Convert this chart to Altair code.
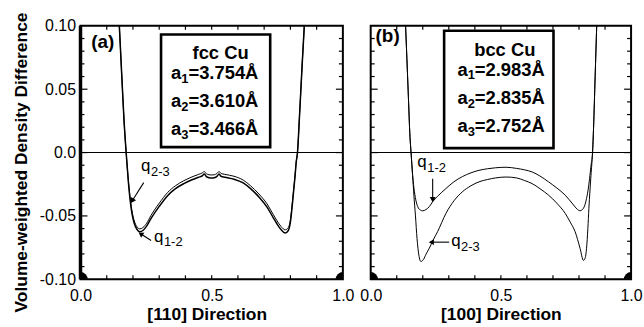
import altair as alt
import pandas as pd

FONT = "Liberation Sans"

# ---------------- panel (a): fcc Cu, [110] direction ----------------
xa = [0.135, 0.148, 0.157, 0.166, 0.174, 0.182, 0.190, 0.197, 0.205, 0.215,
      0.226, 0.238, 0.252, 0.269, 0.300, 0.332, 0.362, 0.394, 0.425, 0.450,
      0.463, 0.472, 0.480, 0.490, 0.500, 0.510, 0.520, 0.528, 0.536, 0.550,
      0.585, 0.620, 0.648, 0.680, 0.711, 0.735, 0.748, 0.765, 0.780, 0.792,
      0.800, 0.806, 0.812, 0.818, 0.822, 0.827, 0.835, 0.845, 0.853, 0.865]
a_q12 = [0.150, 0.100, 0.062, 0.025, 0.000, -0.022, -0.039, -0.049, -0.056, -0.0605,
         -0.0625, -0.0615, -0.058, -0.052, -0.0425, -0.0340, -0.0285, -0.0245, -0.0215, -0.0195,
         -0.0185, -0.0170, -0.0190, -0.0198, -0.0200, -0.0198, -0.0188, -0.0170, -0.0188, -0.0195,
         -0.0210, -0.0240, -0.0285, -0.0350, -0.0430, -0.0515, -0.0560, -0.0610, -0.0635, -0.0615,
         -0.0550, -0.0440, -0.0310, -0.0180, -0.0080, 0.000, 0.030, 0.070, 0.100, 0.150]
a_q23 = [0.150, 0.100, 0.062, 0.025, 0.000, -0.021, -0.037, -0.047, -0.054, -0.0585,
         -0.0602, -0.0592, -0.0558, -0.0495, -0.0400, -0.0315, -0.0262, -0.0222, -0.0192, -0.0172,
         -0.0162, -0.0150, -0.0168, -0.0175, -0.0177, -0.0175, -0.0165, -0.0150, -0.0165, -0.0172,
         -0.0187, -0.0217, -0.0262, -0.0327, -0.0405, -0.0490, -0.0535, -0.0585, -0.0610, -0.0592,
         -0.0530, -0.0425, -0.0300, -0.0172, -0.0075, 0.000, 0.030, 0.070, 0.100, 0.150]

# ---------------- panel (b): bcc Cu, [100] direction ----------------
xb_q12 = [0.120, 0.134, 0.144, 0.151, 0.155, 0.161, 0.168, 0.175, 0.183, 0.192,
          0.200, 0.212, 0.225, 0.238, 0.257, 0.289, 0.320, 0.352, 0.385, 0.416,
          0.448, 0.480, 0.520, 0.560, 0.590, 0.620, 0.650, 0.683, 0.715, 0.747,
          0.779, 0.792, 0.804, 0.817, 0.829, 0.836, 0.842, 0.847, 0.852, 0.856,
          0.862, 0.868, 0.880]
b_q12 = [0.170, 0.100, 0.048, 0.012, 0.000, -0.018, -0.031, -0.039, -0.0437, -0.0455,
         -0.0460, -0.0450, -0.0427, -0.0388, -0.0345, -0.0284, -0.0230, -0.0190, -0.0160, -0.0140,
         -0.0128, -0.0120, -0.0116, -0.0125, -0.0136, -0.0153, -0.0185, -0.0231, -0.0280, -0.0336,
         -0.0414, -0.0445, -0.0459, -0.0440, -0.0362, -0.0280, -0.0179, -0.0090, 0.000, 0.020,
         0.060, 0.100, 0.170]
xb_q23 = [0.120, 0.134, 0.144, 0.151, 0.155, 0.161, 0.166, 0.172, 0.178, 0.185,
          0.193, 0.203, 0.213, 0.225, 0.240, 0.257, 0.289, 0.320, 0.352, 0.385,
          0.416, 0.448, 0.480, 0.520, 0.560, 0.590, 0.620, 0.650, 0.683, 0.715,
          0.747, 0.768, 0.785, 0.804, 0.817, 0.824, 0.829, 0.834, 0.838, 0.846,
          0.852, 0.856, 0.862, 0.868, 0.880]
b_q23 = [0.170, 0.100, 0.048, 0.012, 0.000, -0.018, -0.034, -0.050, -0.068, -0.081,
         -0.0860, -0.0842, -0.0800, -0.0755, -0.0690, -0.0624, -0.0480, -0.0380, -0.0310, -0.0262,
         -0.0231, -0.0213, -0.0200, -0.0193, -0.0200, -0.0220, -0.0245, -0.0285, -0.0336, -0.0400,
         -0.0480, -0.0555, -0.0624, -0.0755, -0.0851, -0.0830, -0.0755, -0.0600, -0.0440, -0.0179,
         0.000, 0.020, 0.060, 0.100, 0.170]

# axis ticks / labels
x_label_vals = [0.0, 0.5, 1.0]
y_label_vals = [-0.10, -0.05, 0.0, 0.05, 0.10]
x_minor = [0.1, 0.2, 0.3, 0.4, 0.6, 0.7, 0.8, 0.9]
x_major = [0.5]
y_minor = [-0.09, -0.08, -0.07, -0.06, -0.04, -0.03, -0.02, -0.01,
           0.01, 0.02, 0.03, 0.04, 0.06, 0.07, 0.08, 0.09]
y_major = [-0.05, 0.0, 0.05]
corner_x = [0.0, 1.0]
corner_y = [-0.10, -0.10]

# legend boxes
a_title = "fcc Cu"
b_title = "bcc Cu"
subs = ["1", "2", "3"]
a_rest = ["=3.754Å", "=3.610Å", "=3.466Å"]
b_rest = ["=2.983Å", "=2.835Å", "=2.752Å"]

H = 255
WA = 264
WB = 262


def panel(W, curves, widths, box, title_xy, title, rows_x, rows_y, rest,
          letter, letter_xy, q_items, arrows, heads, xtitle, show_y, title_x_off):
    xs = alt.Scale(domain=[0, 1], nice=False, zero=False)
    ys = alt.Scale(domain=[-0.1, 0.1], nice=False, zero=False)
    xaxis = alt.Axis(values=x_label_vals, format=".1f", title=xtitle,
                     labelPadding=8, titlePadding=2, titleX=title_x_off,
                     labelFlush=False)
    if show_y:
        yaxis = alt.Axis(values=y_label_vals,
                         labelExpr="datum.value == 0 ? '0.0' : replace(format(datum.value, '.2f'), '\u2212', '-')",
                         title="Volume-weighted Density Difference",
                         labelPadding=5, titleX=-68, titleY=137, titleAngle=270,
                         titleBaseline="top", titleAlign="center")
    else:
        yaxis = None
    X = lambda f="x": alt.X(f"{f}:Q", scale=xs, axis=xaxis)
    Y = lambda f="y": alt.Y(f"{f}:Q", scale=ys, axis=yaxis)

    layers = []
    # zero line
    layers.append(alt.Chart(pd.DataFrame({"y": [0.0]})).mark_rule(
        color="black", strokeWidth=1.1).encode(y=Y()))
    # curves
    for (cx, cy), sw in zip(curves, widths):
        layers.append(alt.Chart(pd.DataFrame({"x": cx, "y": cy})).mark_line(
            color="black", strokeWidth=sw, clip=True, interpolate="monotone").encode(
            x=X(), y=Y(), order="x:Q"))
    # inward ticks
    layers.append(alt.Chart(pd.DataFrame({"y": y_minor})).mark_rule(color="black", strokeWidth=1.2)
                  .encode(y=Y(), x=alt.value(0), x2=alt.value(4)))
    layers.append(alt.Chart(pd.DataFrame({"y": y_major})).mark_rule(color="black", strokeWidth=1.2)
                  .encode(y=Y(), x=alt.value(0), x2=alt.value(7)))
    layers.append(alt.Chart(pd.DataFrame({"y": y_minor})).mark_rule(color="black", strokeWidth=1.2)
                  .encode(y=Y(), x=alt.value(W - 4), x2=alt.value(W)))
    layers.append(alt.Chart(pd.DataFrame({"y": y_major})).mark_rule(color="black", strokeWidth=1.2)
                  .encode(y=Y(), x=alt.value(W - 7), x2=alt.value(W)))
    layers.append(alt.Chart(pd.DataFrame({"x": x_minor + x_major})).mark_rule(color="black", strokeWidth=1.2)
                  .encode(x=X(), y=alt.value(H - 4), y2=alt.value(H)))
    layers.append(alt.Chart(pd.DataFrame({"x": x_minor + x_major})).mark_rule(color="black", strokeWidth=1.2)
                  .encode(x=X(), y=alt.value(0), y2=alt.value(4)))
    if show_y:
        # heavier left frame edge, as in the scan
        layers.append(alt.Chart(pd.DataFrame({"y": [-0.1], "y2": [0.1]})).mark_rule(
            color="black", strokeWidth=3.5).encode(y=Y(), y2="y2:Q", x=alt.value(0)))
    # corner dots
    layers.append(alt.Chart(pd.DataFrame({"x": corner_x, "y": corner_y})).mark_circle(
        color="black", opacity=1, size=210, clip=True).encode(x=X(), y=Y()))
    # legend box
    layers.append(alt.Chart(pd.DataFrame({"x": [box[0]], "x2": [box[1]], "y": [box[2]], "y2": [box[3]]}))
                  .mark_rect(fill="white", stroke="black", strokeWidth=2.6)
                  .encode(x=X(), x2="x2:Q", y=Y(), y2="y2:Q"))
    layers.append(alt.Chart(pd.DataFrame({"x": [title_xy[0]], "y": [title_xy[1]], "t": [title]}))
                  .mark_text(font=FONT, fontSize=18.5, fontWeight="bold", align="center",
                             baseline="alphabetic", color="black")
                  .encode(x=X(), y=Y(), text="t:N"))
    rdf = pd.DataFrame({"x": [rows_x] * 3, "y": rows_y, "a": ["a"] * 3, "s": subs, "r": rest})
    layers.append(alt.Chart(rdf).mark_text(font=FONT, fontSize=18.5, fontWeight="bold", align="left",
                                           baseline="alphabetic", color="black")
                  .encode(x=X(), y=Y(), text="a:N"))
    layers.append(alt.Chart(rdf).mark_text(font=FONT, fontSize=13, fontWeight="bold", align="left",
                                           baseline="alphabetic", color="black", dx=10.3, dy=3.5)
                  .encode(x=X(), y=Y(), text="s:N"))
    layers.append(alt.Chart(rdf).mark_text(font=FONT, fontSize=18.5, fontWeight="bold", align="left",
                                           baseline="alphabetic", color="black", dx=17.5)
                  .encode(x=X(), y=Y(), text="r:N"))
    # panel letter
    layers.append(alt.Chart(pd.DataFrame({"x": [letter_xy[0]], "y": [letter_xy[1]], "t": [letter]}))
                  .mark_text(font=FONT, fontSize=19, fontWeight="bold", align="center",
                             baseline="middle", color="black")
                  .encode(x=X(), y=Y(), text="t:N"))
    # q labels
    qdf = pd.DataFrame({"x": [q[0] for q in q_items], "y": [q[1] for q in q_items],
                        "q": ["q"] * len(q_items), "s": [q[2] for q in q_items]})
    layers.append(alt.Chart(qdf).mark_text(font=FONT, fontSize=17, align="left",
                                           baseline="alphabetic", color="black")
                  .encode(x=X(), y=Y(), text="q:N"))
    layers.append(alt.Chart(qdf).mark_text(font=FONT, fontSize=13, align="left",
                                           baseline="alphabetic", color="black", dx=10, dy=5)
                  .encode(x=X(), y=Y(), text="s:N"))
    # arrows
    adf = pd.DataFrame({"x": [a[0] for a in arrows], "y": [a[1] for a in arrows],
                        "x2": [a[2] for a in arrows], "y2": [a[3] for a in arrows]})
    layers.append(alt.Chart(adf).mark_rule(color="black", strokeWidth=1.1)
                  .encode(x=X(), y=Y(), x2="x2:Q", y2="y2:Q"))
    for hx, hy, ang in heads:
        layers.append(alt.Chart(pd.DataFrame({"x": [hx], "y": [hy]}))
                      .mark_point(shape="triangle", filled=True, color="black", opacity=1,
                                  size=35, angle=ang)
                      .encode(x=X(), y=Y()))
    return alt.layer(*layers).properties(width=W, height=H)


left = panel(
    WA,
    [(xa, a_q23), (xa, a_q12)], [1.0, 1.5],
    (0.307, 0.723, 0.0932, 0.0043), (0.534, 0.0736), a_title,
    0.345, [0.0579, 0.0357, 0.0135], a_rest,
    "(a)", (0.085, 0.0875),
    [(0.231, -0.0145, "2-3"), (0.280, -0.0702, "1-2")],
    [(0.241, -0.0237, 0.199, -0.0375), (0.269, -0.0694, 0.232, -0.0645)],
    [(0.199, -0.0375, 211), (0.232, -0.0645, 304)],
    "[110] Direction", True, 127,
)

right = panel(
    WB,
    [(xb_q12, b_q12), (xb_q23, b_q23)], [1.0, 1.0],
    (0.282, 0.702, 0.0961, 0.0035), (0.515, 0.0762), b_title,
    0.333, [0.0605, 0.0383, 0.0161], b_rest,
    "(b)", (0.065, 0.092),
    [(0.179, -0.0114, "1-2"), (0.309, -0.0741, "2-3")],
    [(0.238, -0.0206, 0.238, -0.0365), (0.3015, -0.0707, 0.236, -0.0707)],
    [(0.238, -0.0365, 180), (0.236, -0.0707, 270)],
    "[100] Direction", False, 131,
)

chart = alt.hconcat(left, right, spacing=28, bounds="flush").properties(
    padding={"left": 11, "top": 9, "right": 0, "bottom": 0},
    background="white",
).configure_view(stroke="black", strokeWidth=2).configure_axis(
    labelFont=FONT, labelFontSize=16, labelColor="black",
    titleFont=FONT, titleFontSize=17.5, titleFontWeight="bold", titleColor="black",
    domain=False, ticks=False, grid=False,
)

chart.save("out.html", embed_options={"renderer": "svg", "actions": False})
